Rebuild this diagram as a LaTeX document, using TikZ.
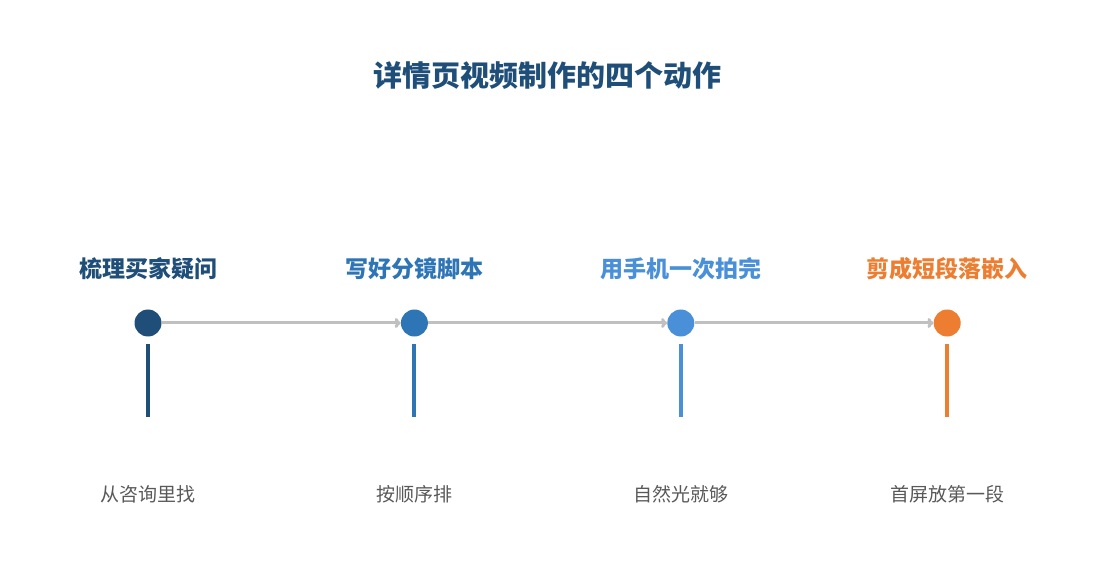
\documentclass[tikz,border=0pt]{standalone}
\usepackage{fontspec}
\setmainfont{Noto Sans CJK SC}
\usepackage{xcolor}
\definecolor{stepdark}{HTML}{1F4E79}
\definecolor{stepmid}{HTML}{2E75B6}
\definecolor{steplight}{HTML}{4A90D9}
\definecolor{steporange}{HTML}{ED7D31}
\definecolor{linegray}{HTML}{C0C0C0}
\definecolor{notegray}{HTML}{595959}
\usepackage{tikz}
\usetikzlibrary{arrows.meta,positioning}

\begin{document}
\begin{tikzpicture}[
        node distance=239pt,
        dot/.style={circle, fill=#1, minimum size=27pt, inner sep=0pt},
        steplabel/.style={text=#1, inner sep=0pt, font=\fontsize{23pt}{26pt}\selectfont\bfseries},
        note/.style={text=notegray, inner sep=0pt, font=\fontsize{19pt}{22pt}\selectfont},
        bar/.style={line width=4pt, draw=#1},
        flow/.style={-{To[length=6pt,width=10pt]}, line width=3pt, draw=linegray}
    ]
        \useasboundingbox (0,0) rectangle (1095pt,-585pt);

        % Title
        \node[text=stepdark, font=\fontsize{29pt}{33pt}\selectfont\bfseries] (title) at (547pt,-75pt) {详情页视频制作的四个动作};

        % Dots
        \node[dot=stepdark] (dot1) at (148pt,-323pt) {};
        \node[dot=stepmid, right=of dot1] (dot2) {};
        \node[dot=steplight, right=of dot2] (dot3) {};
        \node[dot=steporange, right=of dot3] (dot4) {};

        % Flow arrows
        \draw[flow] (dot1.east) -- (dot2.west);
        \draw[flow] (dot2.east) -- (dot3.west);
        \draw[flow] (dot3.east) -- (dot4.west);

        % Step titles
        \node[steplabel=stepdark] (step1) at ([yshift=54pt]dot1) {梳理买家疑问};
        \node[steplabel=stepmid] (step2) at ([yshift=54pt]dot2) {写好分镜脚本};
        \node[steplabel=steplight] (step3) at ([yshift=54pt]dot3) {用手机一次拍完};
        \node[steplabel=steporange] (step4) at ([yshift=54pt]dot4) {剪成短段落嵌入};

        % Bars
        \draw[bar=stepdark] ([yshift=-7.5pt]dot1.south) -- ++(0,-73pt);
        \draw[bar=stepmid] ([yshift=-7.5pt]dot2.south) -- ++(0,-73pt);
        \draw[bar=steplight] ([yshift=-7.5pt]dot3.south) -- ++(0,-73pt);
        \draw[bar=steporange] ([yshift=-7.5pt]dot4.south) -- ++(0,-73pt);

        % Notes
        \node[note] (note1) at ([yshift=-171pt]dot1) {从咨询里找};
        \node[note] (note2) at ([yshift=-171pt]dot2) {按顺序排};
        \node[note] (note3) at ([yshift=-171pt]dot3) {自然光就够};
        \node[note] (note4) at ([yshift=-171pt]dot4) {首屏放第一段};

    \end{tikzpicture}
\end{document}
